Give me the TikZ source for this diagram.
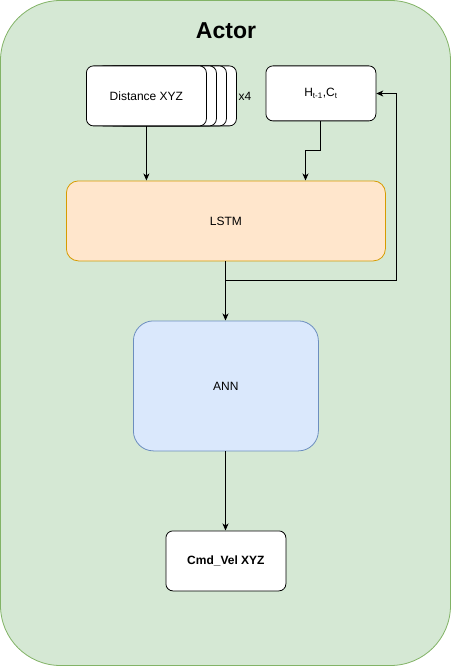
\documentclass[tikz,border=0pt]{standalone}
\usepackage{fontspec}
\setmainfont{Liberation Sans}
\usetikzlibrary{arrows.meta,positioning}
\definecolor{contfill}{HTML}{D5E8D4}
\definecolor{contdraw}{HTML}{82B366}
\definecolor{lstmfill}{HTML}{FFE6CC}
\definecolor{lstmdraw}{HTML}{D79B00}
\definecolor{annfill}{HTML}{DAE8FC}
\definecolor{anndraw}{HTML}{6C8EBF}
\tikzset{
  px/.style={x=1pt,y=-1pt},
  wbox/.style={draw=black,fill=white,rounded corners=7pt,line width=0.8pt,inner sep=0pt,font=\fontsize{12}{14}\selectfont},
  conn/.style={draw=black,line width=0.8pt,-{Stealth[length=7pt,width=6pt,inset=2pt]}},
  plain/.style={draw=black,line width=0.8pt},
}
\begin{document}
\begin{tikzpicture}[px]
\useasboundingbox (0,0) rectangle (451,666);
% container
\draw[fill=contfill,draw=contdraw,line width=0.8pt,rounded corners=60pt] (0.5,0.5) rectangle (450.5,665.5);
\node[font=\bfseries\fontsize{23}{26}\selectfont] (title) at (226,31) {Actor};
% distance stack
\foreach \i in {3,2,1}{
  \node[wbox,minimum width=120pt,minimum height=60pt,anchor=north west] (d\i) at (86+10*\i,65.5) {};
}
\node[wbox,minimum width=120pt,minimum height=60pt,anchor=north west] (dist) at (86,65.5) {Distance XYZ};
\node[font=\fontsize{12}{14}\selectfont] (x4) at (245,96) {x4};
% H box
\node[wbox,minimum width=110pt,minimum height=55pt,anchor=north west] (h) at (265.5,65.5) {H\textsubscript{t-1},C\textsubscript{t}};
% LSTM
\node[draw=lstmdraw,fill=lstmfill,rounded corners=12pt,line width=0.8pt,minimum width=319pt,minimum height=80pt,anchor=north west,font=\fontsize{12}{14}\selectfont] (lstm) at (66,180.5) {LSTM};
% ANN
\node[draw=anndraw,fill=annfill,rounded corners=20pt,line width=0.8pt,minimum width=185pt,minimum height=130pt,anchor=north west,font=\fontsize{12}{14}\selectfont] (ann) at (133,320.5) {ANN};
% Cmd
\node[wbox,minimum width=120pt,minimum height=60pt,anchor=north west,font=\bfseries\fontsize{12}{14}\selectfont] (cmd) at (165.5,530.5) {Cmd\_Vel XYZ};
% connectors
\draw[conn] (dist.south) -- (dist.south |- lstm.north);
\coordinate (hbend) at (320.5,150.5);
\draw[conn] (h.south -| hbend) -- (hbend) -- (305.5,150.5) -- (305.5,180.5);
\coordinate (split) at (225.5,280.5);
\coordinate (rc) at (396.5,280.5);
\draw[conn] (lstm.south -| split) -- (split) -- (ann.north -| split);
\draw[conn] (split) -- (rc) -- (rc |- 0,93.5) -- (h.east |- 0,93.5);
\draw[conn] (ann.south -| split) -- (cmd.north -| split);
\end{tikzpicture}
\end{document}
